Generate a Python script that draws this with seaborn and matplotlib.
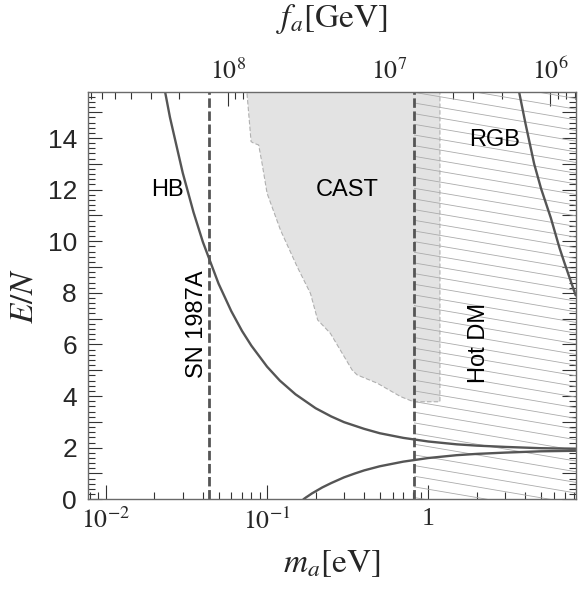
import numpy as np
import pandas as pd
import matplotlib
matplotlib.use("Agg")
import matplotlib.pyplot as plt
import seaborn as sns
from matplotlib.patches import Rectangle
from matplotlib.lines import Line2D
from matplotlib.transforms import blended_transform_factory
from matplotlib.ticker import MultipleLocator, FuncFormatter, LogLocator, NullFormatter, FixedLocator

# ---------------- data ----------------
hb_upper_m = [0.0233, 0.025, 0.03, 0.035, 0.04, 0.05, 0.06, 0.07, 0.08, 0.1, 0.12, 0.15,
              0.2, 0.25, 0.3, 0.4, 0.5, 0.7, 1.0, 1.5, 2.0, 3.0, 5.0, 8.2]
hb_upper_en = [15.8, 14.80, 12.65, 11.12, 9.97, 8.36, 7.29, 6.52, 5.95, 5.14, 4.60, 4.07,
               3.53, 3.21, 2.99, 2.73, 2.56, 2.38, 2.24, 2.13, 2.08, 2.03, 1.98, 1.96]

hb_lower_m = [0.168, 0.175, 0.18, 0.19, 0.2, 0.22, 0.25, 0.3, 0.35, 0.4, 0.5, 0.7, 1.0,
              1.5, 2.0, 3.0, 5.0, 8.2]
hb_lower_en = [0.0, 0.08, 0.13, 0.23, 0.31, 0.46, 0.63, 0.85, 1.00, 1.12, 1.28, 1.46, 1.60,
               1.71, 1.76, 1.81, 1.86, 1.88]

rgb_m = [3.65, 4.0, 4.53, 5.0, 5.75, 6.5, 6.95, 7.5, 8.2]
rgb_en = [15.8, 14.57, 13.0, 12.04, 10.9, 9.75, 9.2, 8.6, 7.9]

cast_m = [0.0733, 0.0796, 0.0826, 0.0887, 0.0931, 0.100, 0.121, 0.1535, 0.1858, 0.206,
          0.247, 0.337, 0.362, 0.482, 0.673, 0.81, 1.18, 1.18]
cast_en = [16.5, 13.86, 13.80, 13.73, 13.02, 11.86, 10.44, 9.02, 7.98, 6.95,
           6.43, 5.01, 4.82, 4.50, 3.98, 3.78, 3.78, 16.5]

sn_m = 0.0434
hotdm_m = 0.81

x_ticks = [0.01, 0.1, 1.0]
x_tick_labels = [r"$10^{-2}$", r"$10^{-1}$", "1"]
fa_ticks = [1e8, 1e7, 1e6]
fa_tick_labels = [r"$10^{8}$", r"$10^{7}$", r"$10^{6}$"]
y_major = list(range(0, 16))
y_labels = {0: "0", 2: "2", 4: "4", 6: "6", 8: "8", 10: "10", 12: "12", 14: "14"}

region_names = ["HB", "CAST", "RGB"]
region_m = [0.024, 0.314, 2.56]
region_en = [12.0, 12.0, 13.93]
vert_names = ["SN 1987A", "Hot DM"]
vert_m = [0.0369, 2.06]
vert_en = [6.8, 6.05]

XMIN, XMAX = 0.00776, 8.2
YMIN, YMAX = 0.0, 15.77
FA_CONST = 5.7e6

# ---------------- style ----------------
sns.set_theme(style="ticks")
plt.rcParams["font.family"] = ["Liberation Sans", "DejaVu Sans"]
plt.rcParams["mathtext.fontset"] = "stix"

CURVE = "#555555"
fig = plt.figure(figsize=(5.81, 5.93), dpi=100)
ax = fig.add_axes([0.1515, 0.158, 0.8394, 0.6863])
ax.set_xscale("log")
ax.set_xlim(XMIN, XMAX)
ax.set_ylim(YMIN, YMAX)

# CAST region
ax.fill(cast_m, cast_en, facecolor="#e3e3e3", edgecolor="#b0b0b0", lw=0.8,
        ls=(0, (4, 2)), zorder=1)

# Hot DM hatching (thin slanted lines clipped to m > hotdm_m, inside the axes)
blend = blended_transform_factory(ax.transData, ax.transAxes)
clip = Rectangle((hotdm_m, 0), XMAX - hotdm_m, 1, transform=blend)
slope = -0.17 * (0.8394 * 581) / (0.6863 * 593)
for c in np.arange(-0.2, 1.45, 0.0262):
    ln = Line2D([0, 1], [c, c + slope], transform=ax.transAxes, color="#ababab",
                lw=0.6, zorder=1.5)
    ax.add_line(ln)
    ln.set_clip_path(clip)

# vertical dashed bounds
for xv in (sn_m, hotdm_m):
    ax.axvline(xv, color=CURVE, lw=2.0, ls=(0, (3.4, 1.3)), zorder=2.5)

# curves
df_up = pd.DataFrame({"m": hb_upper_m, "en": hb_upper_en})
df_lo = pd.DataFrame({"m": hb_lower_m, "en": hb_lower_en})
df_rgb = pd.DataFrame({"m": rgb_m, "en": rgb_en})
for d in (df_up, df_lo, df_rgb):
    sns.lineplot(data=d, x="m", y="en", ax=ax, color=CURVE, lw=1.7, zorder=3,
                 legend=False, estimator=None)

# region labels
for name, xm, ye in zip(region_names, region_m, region_en):
    ax.text(xm, ye, name, ha="center", va="center", fontsize=17, color="black", zorder=4)
for name, xm, ye in zip(vert_names, vert_m, vert_en):
    ax.text(xm, ye, name, ha="center", va="center", rotation=90, fontsize=17,
            color="black", zorder=4)

# ticks
ax.xaxis.set_major_locator(FixedLocator(x_ticks))
ax.set_xticklabels(x_tick_labels, fontfamily="Liberation Serif", fontsize=18.5)
ax.xaxis.set_minor_locator(LogLocator(base=10, subs=np.arange(2, 10), numticks=50))
ax.xaxis.set_minor_formatter(NullFormatter())
ax.yaxis.set_major_locator(FixedLocator(y_major))
ax.yaxis.set_major_formatter(FuncFormatter(lambda v, p: y_labels.get(int(round(v)), "")))
ax.yaxis.set_minor_locator(MultipleLocator(0.2))
ax.tick_params(axis="both", which="both", direction="in", top=False, right=True,
               color="#333333", width=0.8)
ax.tick_params(axis="both", which="major", length=10)
ax.tick_params(axis="both", which="minor", length=5)
ax.tick_params(axis="x", which="major", pad=6)
ax.tick_params(axis="y", which="major", pad=8)
for lab in ax.get_yticklabels():
    lab.set_fontsize(19)
    lab.set_fontfamily("Liberation Sans")

for sp in ax.spines.values():
    sp.set_color("#6a6a6a")
    sp.set_linewidth(1.0)
    sp.set_zorder(5)

ax.set_xlabel(r"$m_a[\mathrm{eV}]$", fontsize=24, labelpad=10)
ax.set_ylabel(r"$E/N$", fontsize=24, labelpad=6)

# top axis: f_a in GeV
def m2f(m):
    m = np.asarray(m, dtype=float)
    with np.errstate(divide="ignore", invalid="ignore"):
        return FA_CONST / np.where(m == 0, 1e-30, m)

secax = ax.secondary_xaxis("top", functions=(m2f, m2f))
secax.xaxis.set_major_locator(FixedLocator(fa_ticks))
secax.set_xticklabels(fa_tick_labels, fontfamily="Liberation Serif", fontsize=18.5)
secax.xaxis.set_minor_locator(LogLocator(base=10, subs=np.arange(2, 10), numticks=50))
secax.xaxis.set_minor_formatter(NullFormatter())
secax.tick_params(which="both", direction="in", color="#333333", width=0.8)
secax.tick_params(which="major", length=10, pad=6)
secax.tick_params(which="minor", length=5)
secax.spines["top"].set_visible(False)
secax.set_xlabel(r"$f_a[\mathrm{GeV}]$", fontsize=24, labelpad=22)

fig.savefig("out.png", dpi=100)
